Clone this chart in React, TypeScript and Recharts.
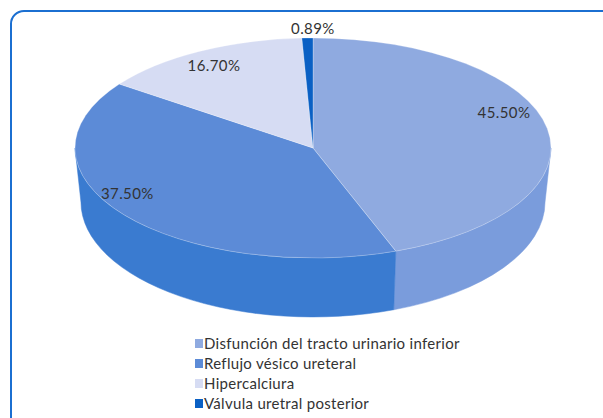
import { Legend, Pie, PieChart } from 'recharts';

const categories = [
  'Disfunción del tracto urinario inferior',
  'Reflujo vésico ureteral',
  'Hipercalciura',
  'Válvula uretral posterior',
];
const percentages = [45.5, 37.5, 16.7, 0.89];
const valueLabels = ['45.50%', '37.50%', '16.70%', '0.89%'];

const topColors = ['#8faae0', '#5c8bd7', '#d6dcf3', '#0a60c4'];
const sideColors = ['#7a9cdc', '#3a7bd0', '#bfc9ea', '#08509f'];

// where Excel put each value label: radial factor on the ellipse + nudge
const labelSpots = [
  { f: 0.845, dx: 0, dy: -7 },
  { f: 0.92, dx: 0, dy: -9 },
  { f: 0.886, dx: 0, dy: 3 },
  { f: 1.1, dx: 6, dy: 1 },
];

// fake 3D: tilt of the top face, wall depth, perspective stretch of the front
const TILT = 110 / 238;
const DEPTH = 54;
const BOTTOM_RX = 0.975;
const BOTTOM_RY = 1.045;
const PERSPECTIVE = 1.19;
const FONT = "Lato, 'Open Sans', sans-serif";

const data = categories.map((name, idx) => ({
  name,
  value: percentages[idx],
  idx,
}));

// front of the disc (-90deg) looks bigger than the back
const projectAngle = (deg: number) => {
  const psi = deg + 90;
  const n = Math.round(psi / 360);
  const r = ((psi - 360 * n) * Math.PI) / 360;
  const psi2 = (2 * Math.atan(PERSPECTIVE * Math.tan(r)) * 180) / Math.PI;
  return psi2 + 360 * n - 90;
};

const ellipsePoint = (cx: number, cy: number, rx: number, ry: number, deg: number) => {
  const r = (deg * Math.PI) / 180;
  return `${cx + rx * Math.cos(r)},${cy - ry * Math.sin(r)}`;
};

const Slice3D = (props: any) => {
  const { cx, cy, outerRadius, startAngle, endAngle } = props;
  const idx = props.idx ?? props.payload?.idx ?? 0;
  const rx = outerRadius;
  const ry = outerRadius * TILT;
  const rxB = rx * BOTTOM_RX;
  const ryB = ry * BOTTOM_RY;
  const hi = projectAngle(Math.max(startAngle, endAngle));
  const lo = projectAngle(Math.min(startAngle, endAngle));
  const pTop = (deg: number) => ellipsePoint(cx, cy, rx, ry, deg);
  const pBot = (deg: number) => ellipsePoint(cx, cy + DEPTH, rxB, ryB, deg);

  // front half of the disc is where the side wall shows
  const sides: [number, number][] = [];
  for (let k = -2; k <= 1; k++) {
    const a = Math.max(lo, k * 360 - 180);
    const b = Math.min(hi, k * 360);
    if (b > a) sides.push([a, b]);
  }

  const top = `M${cx},${cy} L${pTop(hi)} A${rx},${ry} 0 ${hi - lo > 180 ? 1 : 0} 1 ${pTop(lo)} Z`;

  return (
    <g>
      {sides.map(([a, b]) => (
        <path
          key={`${a}-${b}`}
          d={`M${pTop(b)} A${rx},${ry} 0 0 1 ${pTop(a)} L${pBot(a)} A${rxB},${ryB} 0 0 0 ${pBot(b)} Z`}
          fill={sideColors[idx]}
          stroke={sideColors[idx]}
          strokeWidth={0.5}
        />
      ))}
      <path d={top} fill={topColors[idx]} stroke='rgba(255,255,255,0.35)' strokeWidth={0.75} />
    </g>
  );
};

const renderLabel = (props: any) => {
  const { cx, cy, outerRadius, midAngle, index } = props;
  const spot = labelSpots[index];
  const r = (projectAngle(midAngle) * Math.PI) / 180;
  const x = cx + outerRadius * spot.f * Math.cos(r) + spot.dx;
  const y = cy - outerRadius * TILT * spot.f * Math.sin(r) + spot.dy;
  return (
    <text
      x={x}
      y={y}
      textAnchor='middle'
      dominantBaseline='central'
      fill='#333333'
      fontSize={15}
      letterSpacing={0.4}
      fontFamily={FONT}
    >
      {valueLabels[index]}
    </text>
  );
};

const LegendList = () => (
  <ul style={{ listStyle: 'none', margin: 0, padding: 0 }}>
    {categories.map((c, i) => (
      <li
        key={c}
        style={{
          display: 'flex',
          alignItems: 'center',
          height: 20,
          fontSize: 15,
          letterSpacing: 0.3,
          color: '#333333',
          fontFamily: FONT,
          whiteSpace: 'nowrap',
        }}
      >
        <span
          style={{
            display: 'inline-block',
            width: 8,
            height: 9,
            background: topColors[i],
            marginRight: 1,
          }}
        />
        <span>{c}</span>
      </li>
    ))}
  </ul>
);

export default function App() {
  return (
    <div
      style={{
        position: 'absolute',
        left: 0,
        top: 0,
        width: 603,
        height: 418,
        overflow: 'hidden',
        background: '#ffffff',
      }}
    >
      <div
        style={{
          position: 'absolute',
          left: 10,
          top: 10,
          width: 640,
          height: 460,
          border: '2px solid #1b6fd1',
          borderTopLeftRadius: 14,
        }}
      />
      <div style={{ position: 'absolute', left: 0, top: 0 }}>
        <PieChart width={603} height={418} margin={{ top: 0, right: 0, bottom: 0, left: 0 }}>
          <Pie
            data={data}
            dataKey='value'
            nameKey='name'
            cx={313}
            cy={148}
            outerRadius={238}
            startAngle={90}
            endAngle={-270}
            shape={Slice3D}
            inactiveShape={Slice3D}
            activeShape={Slice3D}
            label={renderLabel}
            labelLine={false}
            isAnimationActive={false}
          />
          <Legend
            layout='vertical'
            align='center'
            verticalAlign='middle'
            content={LegendList}
            wrapperStyle={{ left: 195, top: 333, width: 320, height: 80 }}
          />
        </PieChart>
      </div>
    </div>
  );
}
